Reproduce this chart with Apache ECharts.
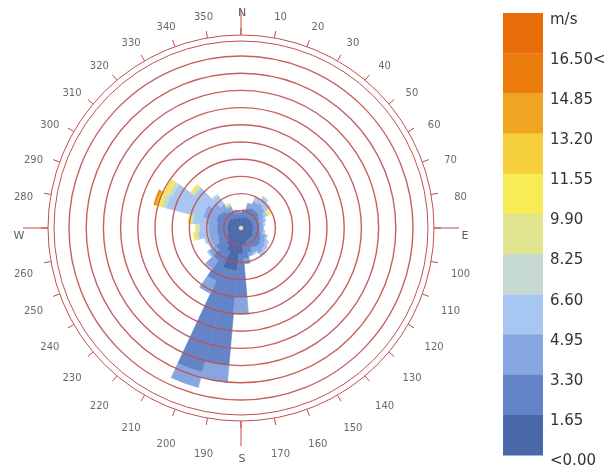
<!DOCTYPE html>
<html>
<head>
<meta charset="utf-8">
<script src="https://cdn.jsdelivr.net/npm/echarts@6/dist/echarts.min.js"></script>
<style>
  html, body { margin: 0; padding: 0; background: #fff; }
  #chart { width: 613px; height: 474px; }
</style>
</head>
<body>
<div id="chart"></div>
<script>
// wind directions, 10 degree sectors
const directions = ['0', '10', '20', '30', '40', '50', '60', '70', '80', '90', '100', '110',
  '120', '130', '140', '150', '160', '170', '180', '190', '200', '210', '220', '230',
  '240', '250', '260', '270', '280', '290', '300', '310', '320', '330', '340', '350']
const cardinals = { 0: 'N', 90: 'E', 180: 'S', 270: 'W' }

// legend, top -> bottom
const legendLabels = ['m/s', '16.50<', '14.85', '13.20', '11.55', '9.90', '8.25', '6.60', '4.95', '3.30', '1.65', '<0.00']
const legendColors = ['#e86c08', '#ec7d0c', '#efa422', '#f6cf3d', '#f8ec56', '#e1e48f',
  '#c5d9d1', '#a8c6f2', '#87a6e0', '#6384c6', '#4a68aa']

// frequency per sector for each speed bin (one ring = 1)
const bin1 = [0.6, 0.6, 0.7, 0.7, 0.7, 0.7, 0.7, 0.7, 0.7, 0.7, 0.7, 0.7, 0.8, 0.8, 0.8, 0.8, 0.9, 1.0,
  1.5, 2.5, 2.5, 1.5, 1.2, 1.0, 0.9, 0.8, 0.8, 0.8, 0.8, 0.8, 0.8, 0.8, 0.7, 0.7, 0.6, 0.6]
const bin2 = [0.3, 0.4, 0.5, 0.6, 0.6, 0.6, 0.5, 0.4, 0.4, 0.4, 0.4, 0.5, 0.5, 0.6, 0.6, 0.5, 0.6, 0.8,
  2.5, 5.5, 6.2, 1.9, 1.1, 0.8, 0.6, 0.6, 0.6, 0.6, 0.6, 0.7, 0.7, 0.6, 0.5, 0.4, 0.3, 0.3]
const bin3 = [0, 0.1, 0.3, 0.4, 0.5, 0.4, 0.3, 0.3, 0.2, 0.2, 0.2, 0.3, 0.3, 0.3, 0.4, 0.3, 0.2, 0.3,
  1.0, 1.0, 0.9, 0.8, 0.6, 0.5, 0.4, 0.5, 0.5, 0.5, 0.6, 0.8, 0.8, 0.6, 0.5, 0.3, 0.2, 0.1]
const bin4 = [0, 0, 0, 0.3, 0.4, 0.3, 0.2, 0.1, 0.1, 0, 0.1, 0.1, 0.2, 0.2, 0.2, 0.1, 0, 0,
  0, 0, 0, 0, 0.1, 0.1, 0.2, 0.3, 0.6, 0.5, 0.8, 2.2, 2.1, 1.3, 0.6, 0.1, 0, 0]
const bin5 = [0, 0, 0, 0, 0.05, 0.1, 0.05, 0, 0, 0, 0, 0, 0, 0, 0, 0, 0, 0,
  0, 0, 0, 0, 0, 0, 0, 0, 0.1, 0.1, 0.1, 0.2, 0.2, 0.1, 0.1, 0, 0, 0]
const bin6 = [0, 0, 0, 0, 0, 0, 0.05, 0, 0, 0, 0, 0, 0, 0, 0, 0, 0, 0,
  0, 0, 0, 0, 0, 0, 0, 0, 0.1, 0.1, 0.1, 0.15, 0.1, 0.1, 0, 0.05, 0, 0]
const bin7 = [0, 0, 0, 0, 0, 0, 0.1, 0, 0, 0, 0, 0, 0, 0, 0, 0, 0, 0,
  0, 0, 0, 0, 0, 0, 0, 0, 0.1, 0.05, 0.1, 0.15, 0.15, 0.1, 0, 0.05, 0, 0]
const bin8 = [0, 0, 0, 0, 0, 0, 0, 0, 0, 0, 0, 0, 0, 0, 0, 0, 0, 0,
  0, 0, 0, 0, 0, 0, 0, 0, 0, 0, 0, 0.1, 0.05, 0, 0, 0, 0, 0]
const bin9 = [0, 0, 0, 0, 0, 0, 0, 0, 0, 0, 0, 0, 0, 0, 0, 0, 0, 0,
  0, 0, 0, 0, 0, 0, 0, 0, 0, 0, 0, 0.1, 0, 0, 0, 0, 0, 0]
const bin10 = [0, 0, 0, 0, 0, 0, 0, 0, 0, 0, 0, 0, 0, 0, 0, 0, 0, 0,
  0, 0, 0, 0, 0, 0, 0, 0, 0, 0, 0, 0.05, 0, 0, 0, 0, 0, 0]
const bin11 = [0, 0, 0, 0, 0, 0, 0, 0, 0, 0, 0, 0, 0, 0, 0, 0, 0, 0,
  0, 0, 0, 0, 0, 0, 0, 0, 0, 0, 0, 0, 0, 0, 0, 0, 0, 0]
const bins = [bin1, bin2, bin3, bin4, bin5, bin6, bin7, bin8, bin9, bin10, bin11]

const center = [241, 228]
const labelCenter = [242, 236]
const ringColor = '#c04f4f'
const hidden = { show: false }

const chart = echarts.init(document.getElementById('chart'))

// bins stack from the centre outwards -> colours bottom to top of legend
const binColors = legendColors.slice().reverse()
const series = bins.map((d, i) => ({
  type: 'bar',
  coordinateSystem: 'polar',
  polarIndex: 0,
  stack: 'rose',
  barCategoryGap: '0%',
  barWidth: '100%',
  // thin border of the same colour hides the antialias seams between sectors
  itemStyle: { color: binColors[i], borderColor: binColors[i], borderWidth: 0.6 },
  silent: true,
  // empty bins are skipped, otherwise their border shows as a thin arc
  data: d.map(v => (v > 0 ? v : '-'))
}))
series.push({
  type: 'scatter',
  coordinateSystem: 'polar',
  polarIndex: 0,
  symbolSize: 5,
  itemStyle: { color: '#fff', borderColor: '#777', borderWidth: 1 },
  z: 20,
  silent: true,
  data: [[0, 0]]
})
// direction labels, centred on their angle
series.push({
  type: 'scatter',
  coordinateSystem: 'polar',
  polarIndex: 3,
  symbolSize: 1,
  itemStyle: { color: 'rgba(0,0,0,0)' },
  silent: true,
  z: 20,
  label: {
    show: true,
    position: 'inside',
    color: '#444',
    fontFamily: 'DejaVu Sans',
    fontSize: 10,
    formatter: p => cardinals[p.name] || p.name
  },
  data: directions.map((d, i) => ({
    name: d,
    value: [cardinals[d] ? 1.0 : 0.995, i],
    label: cardinals[d] ? { fontSize: 11, color: '#333' } : {}
  }))
})

// legend blocks + labels
const graphic = []
legendColors.forEach((c, i) => {
  graphic.push({
    type: 'rect',
    shape: { x: 503, y: 13 + i * 40.2, width: 40, height: 40.6 },
    style: { fill: c }
  })
})
legendLabels.forEach((t, i) => {
  graphic.push({
    type: 'text',
    x: 550,
    y: 20 + i * 40.1,
    style: { text: t, fill: '#333', font: '15px "DejaVu Sans"', align: 'left', verticalAlign: 'middle' }
  })
})

const frameAxis = (idx, tickLen, tickInterval) => ({
  polarIndex: idx,
  type: 'value',
  min: 0,
  max: 360,
  interval: tickInterval,
  startAngle: 90,
  axisLine: { lineStyle: { color: ringColor, width: 1 } },
  axisTick: tickLen ? { length: tickLen, lineStyle: { color: ringColor, width: 1 } } : hidden,
  axisLabel: hidden,
  splitLine: hidden
})

const option = {
  animation: false,
  polar: [
    { center: center, radius: 172 },
    { center: center, radius: 193 },
    { center: center, radius: 187 },
    { center: labelCenter, radius: 223 },
    { center: center, radius: 193 }
  ],
  angleAxis: [
    {
      polarIndex: 0,
      type: 'category',
      data: directions,
      startAngle: 95,
      boundaryGap: true,
      axisLine: hidden, axisTick: hidden, axisLabel: hidden, splitLine: hidden
    },
    frameAxis(1, 7, 10),
    frameAxis(2, 0, 10),
    {
      polarIndex: 3,
      type: 'category',
      data: directions,
      startAngle: 90,
      boundaryGap: false,
      axisLine: hidden, axisTick: hidden, axisLabel: hidden, splitLine: hidden
    },
    // long ticks at N / E / S / W
    Object.assign(frameAxis(4, 25, 90), { axisLine: hidden })
  ],
  radiusAxis: [
    {
      polarIndex: 0,
      type: 'value',
      min: 0,
      max: 10,
      interval: 1,
      z: 10,
      axisLine: hidden, axisTick: hidden, axisLabel: hidden,
      splitLine: { show: true, lineStyle: { color: ringColor, width: 1.4, opacity: 0.9 } }
    },
    { polarIndex: 1, type: 'value', show: false },
    { polarIndex: 2, type: 'value', show: false },
    { polarIndex: 3, type: 'value', min: 0, max: 1, show: false },
    { polarIndex: 4, type: 'value', show: false }
  ],
  graphic: graphic,
  series: series
}

chart.setOption(option)
</script>
</body>
</html>
